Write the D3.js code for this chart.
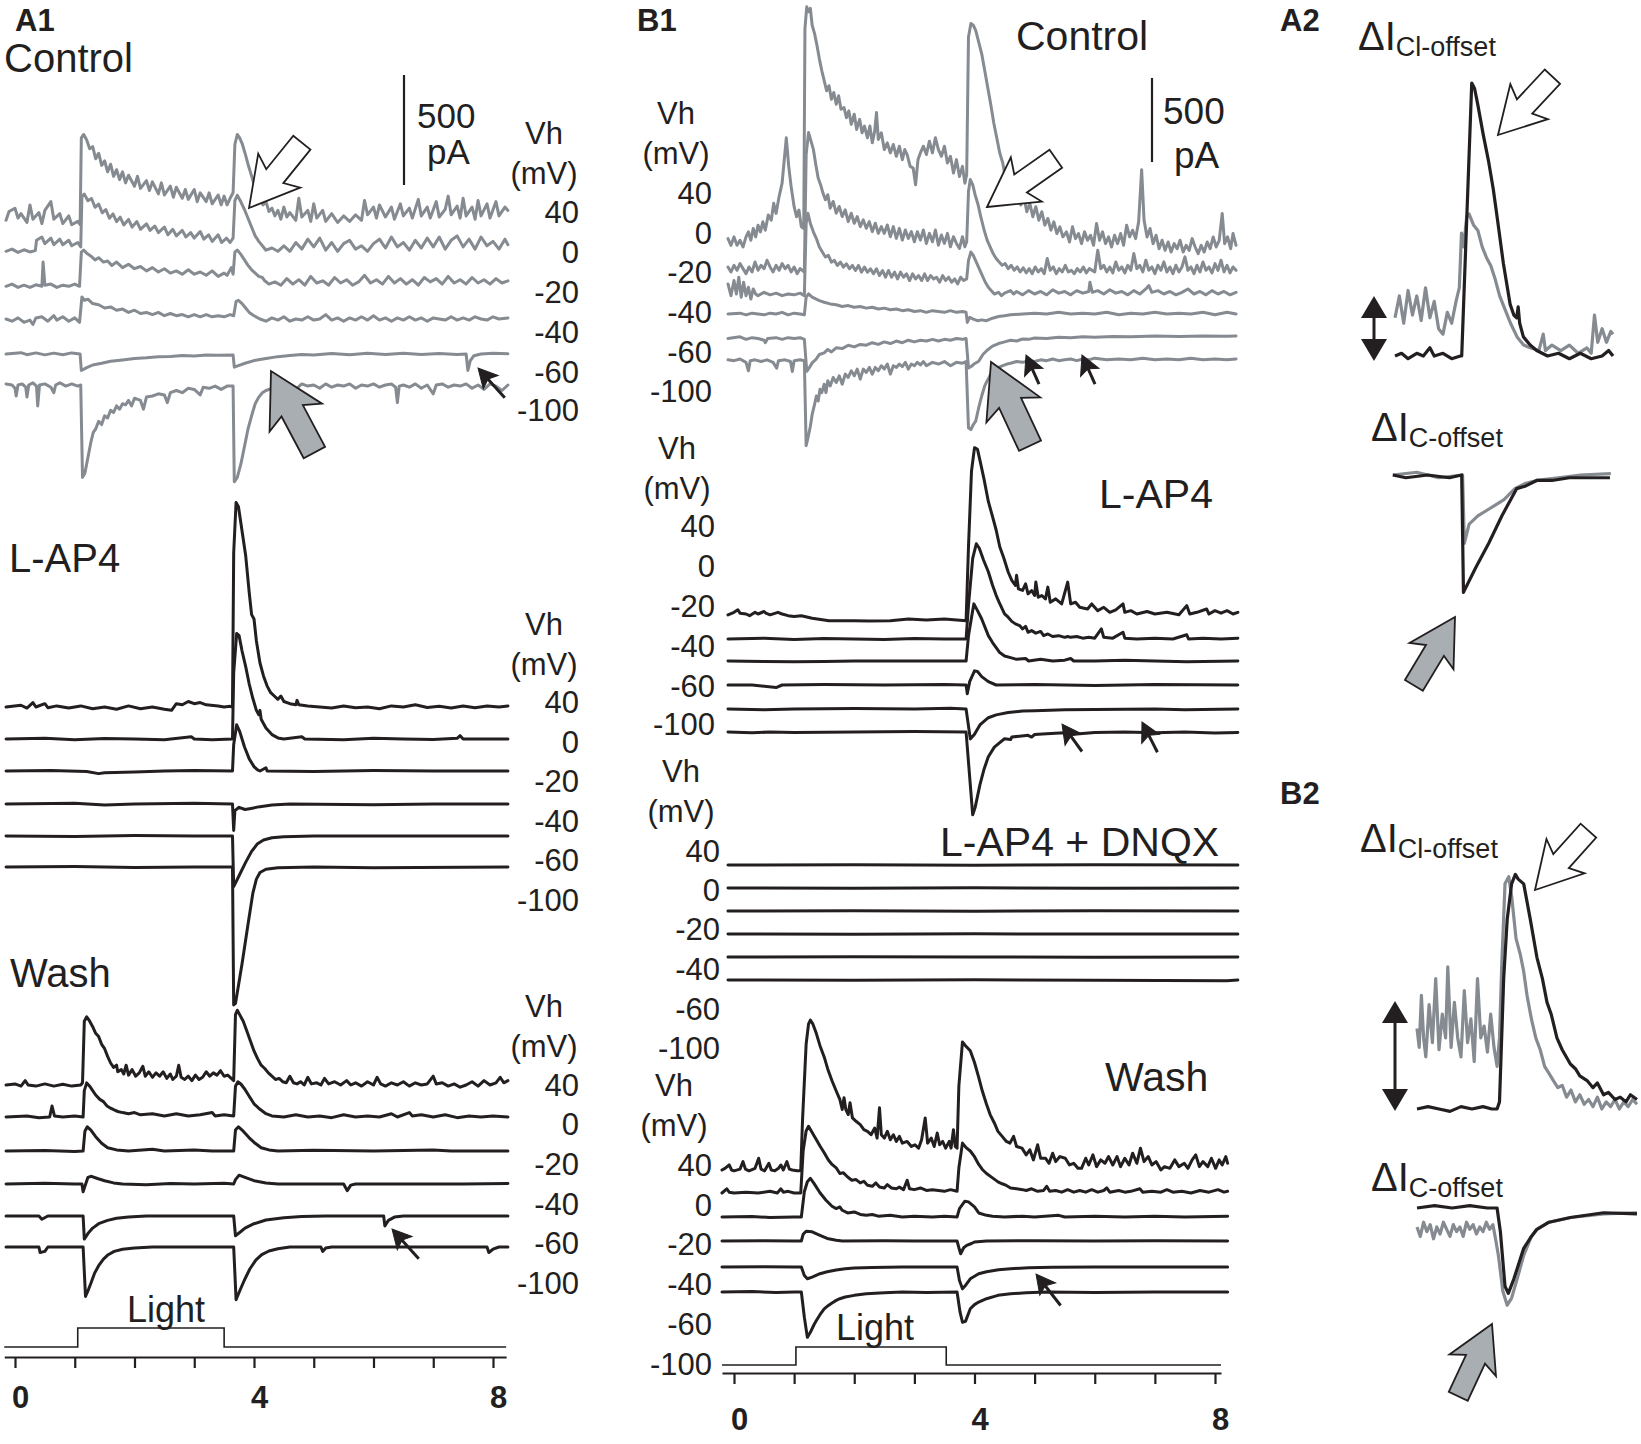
<!DOCTYPE html>
<html><head><meta charset="utf-8">
<script src="https://cdn.jsdelivr.net/npm/d3@7"></script>
<style>
html,body{margin:0;padding:0;background:#fff;}
svg{display:block;}
</style></head><body>
<svg id="fig" width="1641" height="1444"></svg>
<script>
// ================= DATA =================
const timeTicks = [0,1,2,3,4,5,6,7,8];
const tickLabelSet = ["0","4","8"];
const vhLevels = ["40","0","-20","-40","-60","-100"];
const panelLabels = ["A1","B1","A2","B2"];
const conditionsA1 = ["Control","L-AP4","Wash"];
const conditionsB1 = ["Control","L-AP4","L-AP4 + DNQX","Wash"];
const scaleBarPA = 500;
// light stimulus (time s, on/off)
const lightA1 = [-0.18,0, 1.05,0, 1.05,1, 3.5,1, 3.5,0, 8.22,0];
const lightB1 = [-0.2,0, 1.03,0, 1.03,1, 3.53,1, 3.53,0, 8.1,0];

// ---- A1 Control (pA, time s) ----
const a1Ctrl40 = [-0.15,-15,-0.1,25,0,40,0.05,-5,0.1,15,0.2,-25,0.25,55,0.3,-10,0.4,20,0.45,-30,0.5,30,0.6,70,0.65,-10,0.75,15,0.8,-30,0.9,5,0.95,-35,1.05,-20,1.09,-35,1.11,360,1.15,375,1.2,350,1.25,310,1.3,320,1.35,265,1.4,290,1.45,235,1.5,255,1.55,205,1.6,240,1.65,185,1.7,215,1.75,170,1.8,205,1.85,155,1.9,190,2.0,140,2.05,185,2.1,130,2.2,165,2.25,120,2.3,160,2.4,105,2.45,155,2.5,100,2.6,140,2.65,90,2.7,135,2.8,85,2.85,125,2.9,80,3.0,125,3.05,70,3.1,110,3.2,70,3.25,110,3.3,60,3.4,100,3.45,55,3.5,95,3.55,55,3.6,85,3.65,110,3.68,330,3.72,375,3.76,360,3.8,335,3.85,290,3.9,240,3.95,195,4.0,150,4.05,115,4.1,85,4.15,55,4.2,70,4.25,25,4.3,40,4.35,5,4.4,30,4.45,-10,4.5,45,4.55,0,4.6,20,4.7,-15,4.75,85,4.8,0,4.9,30,4.95,-20,5.0,60,5.05,-5,5.15,30,5.2,-20,5.3,15,5.4,-25,5.5,5,5.6,-20,5.7,10,5.8,-15,5.85,75,5.9,10,6.0,45,6.05,-5,6.1,55,6.2,0,6.3,45,6.35,-10,6.45,60,6.5,5,6.6,40,6.65,-5,6.75,80,6.8,5,6.9,45,6.95,-5,7.05,70,7.1,0,7.2,35,7.25,95,7.3,10,7.4,50,7.45,-5,7.5,85,7.55,5,7.65,45,7.7,-10,7.75,75,7.8,5,7.9,60,7.95,-5,8.05,70,8.1,5,8.2,45,8.25,30];
const a1Ctrl0 = [-0.15,-15,-0.05,-5,0.05,-20,0.15,-8,0.25,-18,0.34,-12,0.36,35,0.45,50,0.5,20,0.6,45,0.65,15,0.75,40,0.8,15,0.9,35,0.95,10,1.05,25,1.1,5,1.12,235,1.16,245,1.22,215,1.28,225,1.34,185,1.4,200,1.46,160,1.52,175,1.58,135,1.64,155,1.7,120,1.76,140,1.82,105,1.9,130,1.96,95,2.04,120,2.1,85,2.2,110,2.26,80,2.34,100,2.4,70,2.5,95,2.56,60,2.64,85,2.7,55,2.8,80,2.86,50,2.94,70,3.0,45,3.1,75,3.16,40,3.24,60,3.3,30,3.4,60,3.46,25,3.54,45,3.6,25,3.65,45,3.68,215,3.72,240,3.78,210,3.84,175,3.9,135,3.96,95,4.02,55,4.08,30,4.14,10,4.2,-10,4.3,0,4.4,-15,4.5,10,4.6,-15,4.7,25,4.8,-5,4.9,40,5.0,5,5.1,45,5.2,-10,5.3,25,5.4,-15,5.5,20,5.6,35,5.7,-5,5.8,10,5.9,-15,6.0,20,6.1,40,6.2,0,6.3,50,6.4,5,6.5,25,6.6,-10,6.7,35,6.8,0,6.9,45,7.0,5,7.1,50,7.2,-5,7.3,35,7.4,55,7.5,5,7.6,40,7.7,-5,7.8,50,7.9,10,8.0,30,8.1,-5,8.2,40,8.25,15];
const a1CtrlM20 = [-0.15,-15,-0.05,-5,0.05,-20,0.15,-10,0.25,-20,0.35,-8,0.45,-15,0.47,95,0.5,-10,0.6,-5,0.7,-20,0.8,-10,0.9,-15,1.0,-5,1.08,-15,1.11,140,1.15,150,1.2,135,1.28,120,1.34,105,1.4,115,1.48,95,1.55,100,1.62,80,1.7,95,1.8,70,1.9,85,2.0,65,2.1,75,2.2,55,2.3,70,2.4,50,2.5,65,2.6,45,2.7,55,2.8,40,2.9,60,3.0,40,3.1,50,3.2,35,3.3,55,3.4,30,3.5,45,3.55,35,3.62,70,3.65,40,3.68,140,3.72,150,3.78,130,3.84,105,3.9,80,3.96,60,4.02,45,4.08,30,4.14,25,4.18,10,4.25,-5,4.35,5,4.45,-10,4.55,20,4.65,-5,4.75,15,4.85,-10,4.95,30,5.05,0,5.15,10,5.25,-10,5.35,25,5.45,0,5.55,15,5.65,-10,5.75,5,5.85,35,5.95,0,6.05,15,6.15,-5,6.25,30,6.35,0,6.45,20,6.55,-5,6.65,15,6.75,-10,6.85,25,6.95,5,7.05,20,7.15,-5,7.25,30,7.35,0,7.45,15,7.55,-5,7.65,25,7.75,0,7.85,15,7.95,-5,8.05,20,8.15,0,8.25,10];
const a1CtrlM40 = [-0.15,0,-0.05,-10,0.05,5,0.15,-15,0.25,-5,0.3,-25,0.35,5,0.45,10,0.55,-10,0.65,15,0.7,-5,0.8,10,0.9,-10,1.0,5,1.08,-15,1.12,100,1.16,85,1.22,90,1.3,70,1.4,65,1.5,50,1.6,55,1.7,40,1.8,45,1.9,30,2.0,40,2.1,25,2.2,30,2.3,20,2.4,30,2.5,15,2.6,25,2.7,15,2.8,20,2.9,10,3.0,20,3.1,10,3.2,20,3.3,10,3.4,15,3.5,10,3.6,20,3.66,15,3.7,80,3.74,85,3.8,70,3.86,50,3.92,30,4.0,15,4.1,0,4.2,-10,4.3,5,4.4,-5,4.5,10,4.6,-10,4.7,0,4.8,-5,4.9,10,5.0,-5,5.1,0,5.2,20,5.3,-5,5.4,5,5.5,-10,5.6,5,5.7,-5,5.8,10,5.9,-5,6.0,15,6.1,-5,6.2,5,6.3,-10,6.4,5,6.5,-5,6.6,10,6.7,-5,6.8,5,6.9,-10,7.0,5,7.1,0,7.2,-5,7.3,10,7.4,-5,7.5,5,7.6,-5,7.7,10,7.8,0,7.9,-5,8.0,10,8.1,0,8.25,5];
const a1CtrlM60 = [-0.15,0,0.1,6,0.2,-3,0.35,5,0.5,-4,0.65,4,0.8,-3,0.95,5,1.09,0,1.11,-75,1.2,-62,1.3,-50,1.45,-42,1.6,-33,1.8,-27,2.0,-20,2.2,-17,2.4,-12,2.6,-11,2.8,-7,3.0,-9,3.2,-5,3.4,-6,3.65,-4,3.67,-60,3.75,-52,3.85,-42,4.0,-30,4.2,-20,4.4,-12,4.6,-7,4.8,-2,5.0,-5,5.3,2,5.6,-3,5.9,3,6.2,-2,6.5,3,6.8,-2,7.1,2,7.4,-2,7.55,0,7.58,-75,7.62,-30,7.68,-8,7.8,0,8.0,3,8.25,1];
const a1CtrlM100 = [-0.15,5,-0.05,0,0.0,-15,0.02,-50,0.05,0,0.12,5,0.18,-10,0.2,-55,0.23,0,0.3,10,0.36,-5,0.38,-95,0.41,0,0.5,5,0.6,-10,0.65,-35,0.68,0,0.75,10,0.85,-5,0.95,5,1.05,-5,1.1,0,1.13,-420,1.17,-400,1.22,-330,1.27,-260,1.31,-215,1.35,-200,1.4,-165,1.45,-180,1.5,-140,1.55,-150,1.6,-115,1.65,-125,1.7,-95,1.75,-110,1.8,-85,1.85,-90,1.9,-70,1.95,-95,2.0,-60,2.1,-70,2.15,-110,2.2,-55,2.3,-50,2.4,-40,2.5,-45,2.55,-80,2.6,-35,2.7,-25,2.8,-35,2.9,-15,3.0,-20,3.1,-45,3.15,-10,3.25,-15,3.35,-5,3.45,-20,3.55,-5,3.65,-5,3.67,-440,3.72,-420,3.78,-360,3.84,-280,3.9,-200,3.96,-140,4.02,-85,4.08,-55,4.14,-35,4.2,-25,4.3,-15,4.35,-45,4.4,-5,4.5,-10,4.6,0,4.7,-20,4.8,5,4.9,-5,5.0,0,5.1,-15,5.2,5,5.3,-10,5.4,0,5.5,-5,5.6,5,5.7,-15,5.8,0,5.9,-5,6.0,5,6.1,-10,6.2,0,6.3,5,6.37,-10,6.4,-80,6.43,-5,6.5,0,6.6,-10,6.7,5,6.8,-15,6.9,0,7.0,-40,7.05,0,7.15,5,7.25,-10,7.35,0,7.45,-5,7.55,5,7.65,-15,7.75,0,7.85,-20,7.95,5,8.05,-5,8.15,-25,8.25,0];

// ---- A1 L-AP4 ----
const a1Lap40 = [-0.15,0,0.1,8,0.2,-5,0.3,20,0.35,0,0.5,15,0.55,-3,0.7,5,0.9,-5,1.1,5,1.3,-8,1.5,0,1.7,-10,1.9,5,2.1,-8,2.3,0,2.5,-10,2.62,-15,2.7,15,2.8,10,2.9,25,3.0,15,3.1,20,3.2,10,3.4,5,3.5,0,3.6,3,3.64,0,3.66,700,3.7,930,3.74,910,3.8,800,3.86,690,3.92,520,3.96,420,4.0,400,4.04,300,4.1,200,4.16,140,4.22,95,4.28,65,4.34,50,4.4,35,4.45,50,4.5,25,4.6,15,4.7,10,4.72,30,4.75,10,4.9,5,5.1,0,5.3,-5,5.5,5,5.7,-3,5.9,0,6.1,-8,6.3,5,6.5,0,6.7,10,6.9,-2,7.1,3,7.3,-5,7.5,5,7.7,-3,7.9,5,8.1,0,8.25,5];
const a1Lap0 = [-0.15,0,0.5,3,1.0,-3,1.5,2,2.0,0,2.5,-3,2.95,10,3.0,0,3.3,-3,3.64,0,3.66,300,3.71,480,3.75,470,3.8,400,3.86,330,3.92,250,3.98,185,4.04,130,4.08,110,4.1,130,4.12,90,4.2,50,4.3,20,4.4,5,4.5,0,4.8,10,4.85,0,5.5,-3,6.0,3,6.5,0,7.0,-2,7.4,3,7.45,15,7.5,0,8.25,0];
const a1LapM20 = [-0.15,0,0.6,2,1.2,-2,1.4,-12,1.5,-8,2.0,-5,2.5,0,3.0,2,3.64,0,3.66,120,3.71,210,3.76,180,3.84,110,3.92,55,4.0,20,4.06,5,4.1,0,4.2,15,4.22,0,5.0,-2,6.0,2,7.0,0,8.25,0];
const a1LapM40 = [-0.15,0,1.0,3,1.5,-5,2.0,0,3.0,3,3.64,0,3.66,-120,3.68,-30,3.75,-15,3.85,-25,3.95,-20,4.1,-12,4.3,-5,4.6,0,6.0,-3,7.0,0,8.25,0];
const a1LapM60 = [-0.15,0,1.0,-2,2.0,2,3.0,0,3.64,0,3.66,-230,3.76,-175,3.86,-120,3.96,-70,4.06,-35,4.16,-18,4.3,-8,4.5,-3,5.0,0,8.25,0];
const a1LapM100 = [-0.15,0,1.0,2,2.0,-2,3.0,0,3.64,0,3.66,-627,3.69,-620,3.8,-440,3.9,-260,3.98,-120,4.04,-55,4.1,-25,4.2,-10,4.4,-3,5.0,0,6.0,-3,8.25,0];

// ---- A1 Wash ----
const a1Wash40 = [-0.15,0,0.0,5,0.1,-5,0.17,20,0.22,0,0.35,-5,0.5,5,0.65,-5,0.8,3,0.95,-5,1.1,0,1.13,10,1.16,290,1.2,310,1.25,290,1.3,265,1.35,235,1.4,220,1.45,185,1.5,165,1.55,130,1.6,100,1.65,80,1.7,90,1.72,60,1.78,70,1.82,50,1.86,90,1.9,45,1.96,70,2.02,40,2.08,55,2.14,85,2.18,40,2.24,60,2.3,35,2.36,55,2.42,40,2.48,60,2.54,30,2.6,50,2.64,25,2.7,40,2.74,90,2.78,35,2.84,25,2.9,40,2.96,20,3.02,45,3.08,25,3.14,35,3.2,60,3.26,40,3.32,55,3.38,45,3.44,65,3.5,40,3.56,45,3.62,30,3.66,20,3.69,320,3.72,340,3.76,320,3.82,290,3.88,245,3.94,200,4.0,155,4.06,120,4.12,90,4.18,75,4.24,55,4.3,40,4.36,25,4.42,30,4.48,15,4.54,10,4.6,40,4.66,10,4.72,5,4.78,15,4.84,0,4.9,35,4.96,5,5.05,10,5.12,0,5.18,30,5.25,5,5.35,15,5.45,0,5.55,20,5.62,0,5.7,10,5.8,-5,5.9,15,6.0,0,6.06,35,6.12,5,6.2,-5,6.3,10,6.4,0,6.5,15,6.6,-5,6.7,10,6.8,0,6.9,5,7.0,40,7.05,5,7.15,10,7.25,-5,7.35,5,7.45,-10,7.55,0,7.65,15,7.75,-5,7.85,20,7.95,0,8.05,10,8.12,35,8.18,10,8.25,20];
const a1Wash0 = [-0.15,0,0.2,5,0.4,-3,0.58,0,0.62,50,0.66,5,0.8,0,1.0,5,1.14,0,1.16,120,1.2,155,1.25,140,1.3,120,1.35,100,1.42,80,1.48,70,1.54,50,1.6,40,1.66,32,1.72,25,1.8,20,1.9,15,2.0,20,2.1,10,2.3,15,2.5,5,2.7,15,2.9,5,3.1,10,3.3,20,3.35,5,3.5,10,3.66,5,3.69,140,3.73,160,3.78,150,3.85,125,3.93,90,4.0,60,4.1,35,4.2,15,4.3,5,4.5,0,4.7,10,4.9,0,5.1,5,5.3,-3,5.5,10,5.7,0,5.9,5,6.1,0,6.3,15,6.4,0,6.6,20,6.65,5,6.8,10,7.0,0,7.2,10,7.4,-3,7.6,5,7.8,0,8.0,5,8.25,0];
const a1WashM20 = [-0.15,0,0.5,2,1.0,-2,1.14,0,1.17,90,1.21,110,1.27,95,1.35,65,1.45,35,1.55,15,1.7,5,1.9,0,2.3,8,2.5,0,3.0,5,3.3,0,3.66,0,3.69,95,3.74,110,3.82,90,3.92,60,4.02,35,4.12,15,4.25,5,4.4,0,5.0,3,6.0,0,7.0,5,7.3,0,8.25,0];
const a1WashM40 = [-0.15,0,0.5,3,1.0,0,1.12,0,1.14,-35,1.17,-10,1.22,30,1.28,35,1.38,25,1.5,15,1.65,5,1.8,0,2.2,-3,2.6,2,3.0,0,3.5,3,3.66,0,3.69,20,3.75,40,3.85,30,4.0,15,4.2,5,4.4,0,5.5,0,5.56,-30,5.62,-5,5.7,0,7.5,0,8.25,2];
const a1WashM60 = [-0.15,0,0.4,0,0.45,-15,0.55,0,1.14,0,1.16,-105,1.22,-80,1.3,-55,1.4,-35,1.55,-20,1.7,-10,1.9,-5,2.2,0,3.66,0,3.69,-90,3.76,-75,3.85,-55,4.0,-35,4.2,-18,4.5,-8,4.8,-2,5.2,0,6.17,0,6.19,-45,6.25,-20,6.35,-5,6.5,0,8.25,0];
const a1WashM100 = [-0.15,0,0.4,0,0.42,-25,0.5,-20,0.55,0,1.14,0,1.18,-225,1.22,-200,1.27,-165,1.33,-120,1.4,-85,1.48,-55,1.56,-35,1.66,-20,1.8,-10,2.0,-5,2.3,0,3.66,0,3.7,-240,3.76,-200,3.84,-150,3.93,-100,4.03,-60,4.13,-35,4.25,-18,4.4,-8,4.6,0,5.12,0,5.15,-20,5.2,-5,5.3,0,7.9,0,7.93,-25,8.0,-10,8.1,0,8.25,0];

// ---- B1 Control ----
const b1Ctrl40 = [-0.1,50,-0.05,10,0.0,60,0.05,10,0.1,40,0.15,0,0.2,60,0.24,90,0.28,40,0.32,110,0.36,60,0.4,130,0.44,90,0.48,150,0.52,100,0.57,190,0.62,160,0.66,260,0.7,200,0.75,300,0.8,380,0.87,650,0.91,480,0.95,360,1.0,240,1.04,180,1.08,220,1.12,120,1.16,110,1.18,1300,1.21,1430,1.24,1400,1.27,1420,1.3,1320,1.34,1270,1.38,1200,1.42,1120,1.46,1050,1.5,990,1.54,930,1.58,960,1.62,880,1.66,920,1.7,850,1.74,900,1.78,820,1.83,830,1.87,770,1.91,810,1.95,730,2.0,790,2.04,700,2.09,760,2.13,680,2.17,720,2.22,650,2.26,720,2.3,620,2.34,690,2.37,800,2.4,640,2.45,680,2.5,580,2.55,620,2.6,560,2.65,610,2.7,540,2.75,600,2.8,520,2.84,580,2.88,550,2.93,480,2.98,470,3.02,370,3.06,520,3.1,560,3.15,600,3.2,550,3.25,630,3.3,560,3.35,650,3.4,580,3.45,540,3.5,600,3.55,500,3.6,540,3.65,440,3.7,520,3.75,420,3.8,480,3.84,380,3.87,430,3.9,1250,3.94,1330,3.98,1320,4.02,1290,4.07,1220,4.12,1150,4.17,1050,4.22,950,4.27,850,4.32,740,4.37,650,4.42,560,4.47,500,4.52,400,4.57,360,4.62,420,4.67,300,4.72,330,4.77,250,4.82,300,4.87,210,4.92,260,4.97,180,5.02,240,5.07,160,5.12,210,5.17,130,5.22,170,5.27,100,5.32,150,5.37,80,5.42,120,5.47,60,5.53,90,5.58,30,5.63,120,5.68,50,5.73,80,5.78,20,5.83,90,5.88,40,5.93,70,5.98,10,6.03,140,6.08,40,6.13,90,6.18,20,6.23,60,6.28,0,6.33,70,6.38,20,6.43,80,6.48,10,6.53,130,6.58,60,6.63,100,6.68,50,6.73,150,6.78,460,6.82,160,6.87,60,6.92,110,6.97,20,7.02,70,7.07,-10,7.12,40,7.17,-20,7.22,30,7.27,-30,7.32,20,7.37,-10,7.42,40,7.47,-30,7.52,10,7.57,-20,7.62,50,7.67,0,7.72,-40,7.77,10,7.82,-30,7.87,30,7.92,-10,7.97,60,8.02,0,8.07,40,8.12,200,8.16,20,8.21,60,8.26,-10,8.3,80,8.35,10];
const b1Ctrl0 = [-0.1,30,-0.05,0,0.0,40,0.05,10,0.1,50,0.15,20,0.2,-10,0.25,30,0.3,0,0.35,60,0.4,10,0.45,40,0.5,20,0.55,70,0.6,30,0.65,0,0.7,40,0.75,10,0.8,50,0.85,20,0.9,40,0.95,0,1.0,30,1.05,-10,1.1,20,1.17,0,1.2,700,1.24,830,1.28,780,1.32,730,1.36,640,1.4,560,1.44,520,1.48,470,1.52,430,1.56,460,1.6,380,1.65,420,1.7,350,1.75,390,1.8,330,1.85,370,1.9,300,1.95,350,2.0,290,2.05,330,2.1,270,2.15,310,2.2,260,2.25,300,2.3,240,2.35,290,2.4,230,2.45,270,2.5,230,2.55,280,2.6,210,2.65,270,2.7,200,2.75,260,2.8,190,2.85,250,2.9,200,2.95,240,3.0,180,3.05,240,3.1,190,3.15,250,3.2,170,3.25,230,3.3,180,3.35,250,3.4,160,3.45,220,3.5,170,3.55,230,3.6,150,3.65,210,3.7,170,3.75,140,3.8,210,3.84,150,3.87,180,3.9,480,3.93,550,3.97,520,4.01,460,4.06,400,4.11,320,4.16,250,4.21,190,4.26,150,4.31,110,4.36,80,4.41,60,4.46,40,4.51,50,4.56,20,4.61,40,4.66,10,4.71,30,4.76,0,4.81,25,4.86,-5,4.91,20,4.96,-10,5.01,30,5.06,0,5.11,20,5.16,-10,5.21,80,5.26,10,5.31,30,5.36,-10,5.41,20,5.46,0,5.51,40,5.56,0,5.61,10,5.66,-10,5.71,20,5.76,0,5.81,30,5.86,-5,5.91,20,6.0,0,6.05,130,6.1,20,6.15,40,6.2,0,6.25,30,6.3,-5,6.35,60,6.4,10,6.45,30,6.5,-5,6.55,40,6.6,10,6.65,110,6.7,20,6.75,40,6.8,0,6.85,70,6.9,10,6.95,30,7.0,-10,7.05,40,7.1,10,7.15,60,7.2,0,7.25,30,7.3,-10,7.35,40,7.4,0,7.45,30,7.5,90,7.55,10,7.6,30,7.65,-10,7.7,40,7.75,0,7.8,60,7.85,10,7.9,30,7.95,-5,8.0,50,8.05,10,8.1,70,8.15,0,8.2,40,8.25,-5,8.3,30,8.35,10];
const b1CtrlM20 = [-0.1,60,-0.05,-10,0.0,80,0.04,0,0.08,100,0.12,-20,0.16,70,0.2,-10,0.24,40,0.28,-30,0.32,30,0.36,0,0.4,-10,0.5,10,0.6,-5,0.7,5,0.8,-10,0.9,0,1.0,-5,1.1,5,1.17,-10,1.2,420,1.23,480,1.27,420,1.32,370,1.37,330,1.42,280,1.47,250,1.52,220,1.57,230,1.62,190,1.67,200,1.72,170,1.77,190,1.82,160,1.87,180,1.92,150,1.97,170,2.02,140,2.07,170,2.12,130,2.17,160,2.22,130,2.27,150,2.32,120,2.37,150,2.42,110,2.47,140,2.52,100,2.57,140,2.62,100,2.67,130,2.72,90,2.77,130,2.82,100,2.87,120,2.92,80,2.97,120,3.02,90,3.07,110,3.12,80,3.17,120,3.22,80,3.27,110,3.32,90,3.37,100,3.42,70,3.47,110,3.52,80,3.57,100,3.62,70,3.67,90,3.72,60,3.77,100,3.82,80,3.87,90,3.9,200,3.94,250,3.98,230,4.03,190,4.08,150,4.13,110,4.18,70,4.23,40,4.28,20,4.33,0,4.4,10,4.45,-10,4.5,5,4.6,20,4.65,0,4.7,15,4.8,-5,4.9,20,5.0,0,5.1,15,5.2,-5,5.3,25,5.4,5,5.5,15,5.6,-5,5.7,20,5.8,5,5.9,15,5.92,70,5.96,10,6.05,20,6.15,0,6.25,25,6.35,5,6.45,15,6.55,-5,6.65,20,6.75,0,6.85,30,6.9,50,6.95,10,7.05,20,7.15,0,7.25,15,7.35,-5,7.45,10,7.55,30,7.65,0,7.75,15,7.85,-5,7.95,20,8.05,0,8.15,15,8.25,-5,8.35,10];
const b1CtrlM40 = [-0.1,0,0.1,5,0.2,-5,0.3,5,0.4,0,0.5,-5,0.6,5,0.7,0,0.8,10,0.9,-5,1.0,5,1.1,0,1.17,-5,1.2,100,1.24,120,1.3,100,1.36,90,1.42,80,1.5,70,1.6,60,1.7,55,1.8,45,1.9,50,2.0,40,2.1,45,2.2,35,2.3,40,2.4,30,2.5,35,2.6,25,2.7,30,2.8,20,2.9,25,3.0,15,3.1,20,3.2,10,3.3,20,3.4,15,3.5,10,3.6,20,3.7,10,3.8,15,3.86,10,3.88,-50,3.92,-20,3.98,-30,4.05,-40,4.12,-35,4.2,-40,4.3,-25,4.4,-15,4.5,-10,4.6,-5,4.8,0,5.0,5,5.2,0,5.4,10,5.6,0,5.8,5,6.0,0,6.2,10,6.4,-5,6.6,5,6.8,0,7.0,10,7.2,0,7.4,5,7.6,0,7.8,10,8.0,-5,8.2,10,8.35,0];
const b1CtrlM60 = [-0.1,-15,0.1,-5,0.2,-20,0.3,-10,0.4,-15,0.5,-25,0.52,-40,0.56,-15,0.7,-10,0.8,-20,0.9,-10,1.0,-15,1.1,-10,1.17,-20,1.21,-210,1.25,-190,1.3,-160,1.36,-140,1.42,-110,1.5,-100,1.56,-80,1.62,-95,1.7,-70,1.8,-75,1.9,-55,2.0,-65,2.1,-50,2.2,-55,2.3,-40,2.4,-50,2.5,-35,2.6,-45,2.7,-30,2.8,-40,2.9,-25,3.0,-35,3.1,-25,3.2,-30,3.3,-20,3.4,-30,3.5,-20,3.6,-25,3.7,-15,3.8,-20,3.86,-15,3.9,-190,3.95,-180,4.0,-165,4.07,-150,4.14,-110,4.21,-85,4.3,-60,4.4,-45,4.5,-35,4.6,-25,4.7,-30,4.8,-18,4.9,-20,5.0,-12,5.2,-15,5.4,-8,5.6,-10,5.8,-5,6.0,-8,6.3,-3,6.6,-5,7.0,0,7.4,-3,7.8,0,8.2,-2,8.35,0];
const b1CtrlM100 = [-0.1,-5,0.0,-10,0.1,0,0.2,-20,0.24,-70,0.27,-10,0.35,-5,0.45,-15,0.55,-5,0.65,-20,0.71,-55,0.74,-10,0.85,-5,0.94,-15,0.97,-75,1.0,-10,1.1,-5,1.17,-10,1.2,-516,1.23,-470,1.27,-400,1.3,-330,1.34,-270,1.37,-220,1.4,-250,1.43,-180,1.46,-200,1.5,-150,1.53,-200,1.56,-130,1.6,-160,1.65,-110,1.7,-140,1.75,-100,1.8,-150,1.85,-90,1.9,-110,1.95,-70,2.0,-100,2.05,-60,2.1,-120,2.15,-60,2.2,-80,2.25,-50,2.3,-90,2.35,-50,2.4,-70,2.45,-40,2.5,-60,2.55,-30,2.6,-90,2.65,-40,2.7,-50,2.75,-30,2.8,-45,2.85,-20,2.9,-60,2.95,-30,3.0,-40,3.05,-20,3.1,-35,3.15,-15,3.2,-40,3.3,-20,3.4,-30,3.5,-15,3.6,-40,3.7,-20,3.8,-25,3.86,-15,3.9,-410,3.94,-420,3.98,-390,4.02,-370,4.07,-290,4.12,-220,4.17,-160,4.21,-130,4.27,-90,4.34,-70,4.4,-50,4.47,-40,4.54,-30,4.6,-25,4.7,-15,4.8,-20,4.9,-10,5.0,-15,5.1,-5,5.2,-10,5.3,0,5.4,-10,5.5,-5,5.6,0,5.7,-10,5.8,0,5.9,-5,6.0,5,6.2,-5,6.4,0,6.6,-5,6.8,5,7.0,-5,7.2,0,7.4,-5,7.6,5,7.8,-5,8.0,0,8.2,-5,8.35,0];

// ---- B1 L-AP4 ----
const b1Lap40 = [-0.1,-5,0.0,10,0.065,25,0.1,5,0.2,0,0.26,-10,0.35,10,0.4,0,0.5,15,0.53,5,0.6,-5,0.73,10,0.8,0,0.9,-10,1.0,-15,1.12,-10,1.3,-25,1.58,-40,2.0,-40,2.24,-42,2.6,-40,2.9,-30,3.2,-35,3.5,-30,3.86,-40,3.9,400,3.95,850,4.0,990,4.05,980,4.1,900,4.16,800,4.23,670,4.3,580,4.36,500,4.42,400,4.49,330,4.56,250,4.62,200,4.68,170,4.7,230,4.73,150,4.8,140,4.85,180,4.89,120,4.95,140,5.0,110,5.02,190,5.06,100,5.12,110,5.18,90,5.22,160,5.26,70,5.35,90,5.45,60,5.55,190,5.6,60,5.68,70,5.75,40,5.88,30,5.95,60,6.05,20,6.15,40,6.25,10,6.35,25,6.47,60,6.5,10,6.6,20,6.7,0,6.87,15,7.0,0,7.2,10,7.4,-5,7.53,50,7.58,0,7.7,10,7.86,30,7.9,0,8.0,20,8.1,5,8.2,20,8.3,0,8.38,10];
const b1Lap0 = [-0.1,0,0.5,5,1.0,-3,1.5,3,2.0,0,2.5,-3,3.0,3,3.5,0,3.86,0,3.9,200,3.97,480,4.03,567,4.08,540,4.15,470,4.23,400,4.3,320,4.36,260,4.42,210,4.5,150,4.56,130,4.62,105,4.68,90,4.75,80,4.8,60,4.85,75,4.89,40,4.95,50,5.02,35,5.1,45,5.15,20,5.22,30,5.3,15,5.4,20,5.5,10,5.55,15,5.6,10,5.7,15,5.8,5,5.9,10,6.0,5,6.11,60,6.15,10,6.3,5,6.47,40,6.5,5,6.7,0,7.0,5,7.3,0,7.53,25,7.56,0,7.8,5,8.1,0,8.38,5];
const b1LapM20 = [-0.1,0,0.5,-3,1.0,-5,1.5,-3,2.0,0,3.0,0,3.86,0,3.9,150,3.97,300,3.99,340,4.05,300,4.12,250,4.23,151,4.3,110,4.36,80,4.42,50,4.5,30,4.6,20,4.7,10,4.85,15,4.9,0,5.1,10,5.3,0,5.5,5,5.6,15,5.65,0,6.0,0,6.5,5,7.0,0,7.53,-5,8.38,0];
const b1LapM40 = [-0.1,0,0.3,0,0.7,-15,0.8,0,1.5,3,2.5,0,3.5,3,3.86,0,3.88,-52,3.92,20,4.0,84,4.05,80,4.12,50,4.23,20,4.36,0,5.0,3,6.0,-3,7.0,3,8.38,0];
const b1LapM60 = [-0.1,0,0.5,-5,1.0,0,2.0,3,3.0,0,3.6,5,3.86,0,3.93,-178,4.0,-150,4.09,-95,4.23,-52,4.36,-35,4.56,-21,4.8,-12,5.0,-10,5.5,-5,6.0,-3,7.0,0,7.5,-5,8.38,0];
const b1LapM100 = [-0.1,0,0.3,-5,0.6,0,1.0,-3,2.0,0,3.0,3,3.86,0,3.97,-493,4.01,-450,4.09,-315,4.16,-220,4.23,-147,4.33,-90,4.42,-63,4.5,-40,4.6,-45,4.62,-30,4.75,-25,4.89,-20,4.95,-30,5.0,-15,5.2,-10,5.5,-5,5.7,-12,6.0,-3,6.5,0,7.0,-5,7.5,0,8.0,-6,8.38,-3];

// ---- B1 L-AP4 + DNQX ----
const b1Dnqx40 = [-0.1,0,2.0,2,4.0,-2,6.0,2,8.38,0];
const b1Dnqx0 = [-0.1,0,2.0,-1,4.0,1,6.0,-1,8.38,0];
const b1DnqxM20 = [-0.1,0,2.0,1,4.0,-1,6.0,1,8.38,0];
const b1DnqxM40 = [-0.1,0,2.0,-1,4.0,1,6.0,0,8.38,0];
const b1DnqxM60 = [-0.1,0,2.0,1,4.0,0,6.0,-1,8.38,0];
const b1DnqxM100 = [-0.1,0,2.0,-1,4.0,1,6.0,-1,8.2,-4,8.38,0];

// ---- B1 Wash ----
const b1Wash40 = [-0.2,0,-0.15,10,-0.08,30,-0.04,0,0.0,-5,0.1,5,0.15,50,0.19,5,0.25,-5,0.35,10,0.41,70,0.45,5,0.51,-5,0.58,40,0.62,0,0.68,-5,0.74,10,0.78,30,0.82,0,0.88,50,0.92,5,0.97,0,1.05,-5,1.11,-5,1.14,300,1.2,750,1.24,870,1.27,892,1.31,870,1.37,812,1.43,740,1.5,673,1.56,600,1.63,531,1.7,470,1.76,420,1.8,360,1.83,430,1.86,360,1.9,330,1.93,400,1.97,310,2.03,290,2.1,270,2.16,240,2.22,230,2.28,210,2.34,250,2.38,190,2.42,370,2.45,210,2.5,190,2.55,230,2.6,180,2.65,210,2.7,170,2.75,200,2.8,160,2.88,170,2.95,140,3.01,150,3.07,130,3.12,180,3.18,310,3.22,160,3.28,190,3.33,140,3.38,220,3.42,150,3.47,170,3.52,130,3.58,170,3.61,130,3.65,240,3.68,140,3.71,130,3.74,500,3.8,762,3.85,740,3.93,710,4.0,640,4.07,551,4.13,470,4.2,391,4.26,330,4.33,280,4.39,230,4.46,200,4.53,170,4.59,160,4.65,200,4.7,140,4.79,130,4.86,90,4.92,120,4.98,60,5.05,150,5.1,70,5.18,70,5.24,40,5.3,100,5.35,50,5.42,80,5.51,70,5.58,30,5.65,40,5.72,10,5.78,10,5.85,70,5.9,30,5.97,90,6.03,20,6.1,60,6.17,40,6.23,80,6.3,30,6.37,80,6.43,20,6.5,70,6.57,30,6.63,100,6.7,40,6.76,130,6.82,50,6.89,80,6.95,30,7.02,50,7.1,0,7.16,20,7.25,10,7.33,60,7.4,20,7.49,40,7.55,10,7.62,60,7.68,90,7.74,20,7.8,50,7.88,20,7.94,70,8.01,10,8.07,60,8.12,30,8.18,80,8.21,40];
const b1Wash0 = [-0.2,0,-0.12,25,-0.08,5,0.0,0,0.2,5,0.4,0,0.6,10,0.72,0,0.78,25,0.82,5,0.9,10,1.0,0,1.11,0,1.15,250,1.2,370,1.24,397,1.3,360,1.37,317,1.43,280,1.5,240,1.57,196,1.63,170,1.7,150,1.76,116,1.82,120,1.89,95,1.96,76,2.03,80,2.1,60,2.16,70,2.22,46,2.3,40,2.36,60,2.42,36,2.5,30,2.55,50,2.62,30,2.7,25,2.75,35,2.82,20,2.88,76,2.92,25,3.0,20,3.1,30,3.2,15,3.3,20,3.4,15,3.5,10,3.6,20,3.71,10,3.74,150,3.8,297,3.86,270,3.93,250,4.0,216,4.07,170,4.13,140,4.2,116,4.3,90,4.39,66,4.46,55,4.53,45,4.6,30,4.7,25,4.8,20,4.86,15,4.95,25,5.05,10,5.15,15,5.2,40,5.25,10,5.35,15,5.45,5,5.55,20,5.65,5,5.75,15,5.85,5,5.95,20,6.05,5,6.15,15,6.2,30,6.25,5,6.4,15,6.5,5,6.6,10,6.75,25,6.8,5,6.95,10,7.1,5,7.2,20,7.3,5,7.45,10,7.6,0,7.75,15,7.9,5,8.05,20,8.15,5,8.21,10];
const b1WashM20 = [-0.2,0,0.3,3,0.6,-3,1.0,0,1.12,0,1.17,150,1.22,210,1.27,230,1.33,200,1.43,144,1.53,100,1.63,64,1.7,50,1.76,60,1.8,40,1.89,24,2.0,30,2.1,15,2.2,10,2.3,15,2.4,5,2.6,10,2.8,0,3.0,5,3.3,0,3.5,5,3.71,0,3.75,50,3.84,94,3.9,90,4.0,60,4.07,24,4.2,10,4.3,5,4.5,0,4.8,5,5.0,0,5.4,10,5.5,0,6.0,5,6.5,0,7.0,5,7.5,0,8.21,5];
const b1WashM40 = [-0.2,0,0.5,2,1.0,0,1.12,0,1.15,40,1.2,58,1.3,55,1.43,34,1.55,15,1.7,5,1.8,0,2.5,2,3.0,0,3.71,0,3.74,-40,3.77,-76,3.82,-40,3.87,-26,3.95,-15,4.0,-6,4.2,0,5.0,2,6.0,0,7.0,2,8.21,0];
const b1WashM60 = [-0.2,0,0.5,2,1.0,0,1.12,0,1.17,-50,1.22,-70,1.3,-60,1.43,-40,1.55,-28,1.7,-18,1.85,-10,2.0,-6,2.3,-3,2.8,0,3.71,0,3.75,-80,3.8,-130,3.85,-110,3.93,-70,4.07,-40,4.2,-28,4.4,-16,4.6,-10,4.9,-5,5.3,-2,6.0,0,8.21,0];
const b1WashM100 = [-0.2,0,0.3,3,0.7,-3,1.0,0,1.12,0,1.17,-150,1.22,-270,1.27,-240,1.33,-195,1.37,-170,1.43,-135,1.5,-100,1.57,-80,1.63,-65,1.7,-50,1.76,-40,1.85,-30,2.0,-20,2.2,-10,2.5,-5,2.8,0,3.2,-3,3.71,0,3.76,-120,3.8,-180,3.85,-175,3.93,-100,4.0,-75,4.07,-60,4.2,-40,4.39,-20,4.6,-10,4.86,-5,5.2,0,6.0,-3,7.0,0,8.21,0];

// ---- A2 / B2 offset currents (window %, normalised current) ----
const a2ClGray = [0,14,2,22,4,12,6,24,8,15,10,22,12,13,14,25,16,14,18,20,20,10,22,8,24,16,26,12,28,20,29.5,25,30.5,45,31.5,40,32.9,51,34,52,36,48,38,46,40,40,42,36,44,33,46,28,48,22,50,18,53,12,56,7,59,4,62,3,66,2,68,8,69,2,72,4,76,2,80,4,84,1,88,3,90,1,91.5,15,93,5,95,10,97,5,99,9,100,8];
const a2ClBlack = [0,0,3,1,6,-1,10,1,13,0,16,3,18,0,22,1,26,-1,30,0,30.6,0,35.2,100,36.5,98,38,92,40.5,81,43,71,45.1,61,47,50,49.7,34,52.8,19,54.5,15,55.8,14,56.5,18,57.2,12,58.9,7,62,4,65,2,70,0,75,1,80,-1,85,1,90,-1,95,0,98,2,100,0];
const a2CGray = [-1,0,10,1,20,-1,31,0,31.8,-25,34,-18,38,-15,42,-13,46,-11,50,-9,55,-5,60,-3,65,-2,75,-1,85,0,99,0.5];
const a2CBlack = [-1,0,5,-1,15,0,25,-1,30.6,0,31.4,-43,37,-34,43,-25,49,-15,55.8,-5,60,-4,65,-2,72,-2,80,-1,90,-1,98.6,-1];
const b2ClGray = [0,34,1,26,2,48,3,30,4,22,5.5,44,7,28,8.5,55,10,25,11.5,40,13,30,14,60,15.5,26,17,45,18.5,30,20,22,21.5,50,23,28,24.5,38,26,20,27.5,55,29,30,30.5,35,32,24,33.5,40,35,26,36.4,18,37.5,30,38.5,60,40,95,41.7,98,43,90,45,72,47,65,48.5,58,50,48,52,38,54,30,56,25,58,18,60,15,62,12,64,9,66,10,68,5,70,8,72,3,74,6,76,2,78,4,80,1,82,5,84,0,86,3,88,1,90,4,92,0,94,3,96,1,98,4,100,2];
const b2ClBlack = [0,0,5,1,10,0,15,-1,20,1,25,0,30,1,34,0,36.4,0,37.5,3,39.4,55,41,80,43,95,44.7,99,46,97,48.5,95,51.5,80,54.5,64,57,55,59.1,45,61,40,63.6,30,66,25,69.7,19,72,17,74,14,77.3,12,80,9,82,11,84.8,6,87,7,90,4,92.4,5,95,3,97,6,100,4];
const b2CGray = [0,-8,1.5,-12,3,-6,4.5,-10,6,-7,7.5,-13,9,-8,10.5,-11,12,-6,13.5,-9,15,-12,16.5,-7,18,-10,19.5,-8,21,-12,22.5,-6,24,-9,25.5,-7,27,-11,28.5,-8,30,-10,31.5,-6,33,-9,34.5,-7,35.5,-12,37,-20,39,-35,41,-41,43,-38,45.5,-30,48.5,-20,52,-12,54.5,-9,60,-6,70,-4,85,-2.5,100,-2];
const b2CBlack = [0,0,8,1,16,0,24,1,32,0,36.4,0,37.9,-10,40,-33,41.5,-36,44,-30,48.5,-17,52,-12,54.5,-9,60,-6,69.7,-4,84.8,-2,100,-2.5];

// ================= DRAWING =================
const FONT = '"Liberation Sans", Arial, Helvetica, sans-serif';
const INK = "#231f20", GRAY = "#858b91", ARROWGRAY = "#a9aeb3";
const svg = d3.select("#fig");
svg.append("rect").attr("width",1641).attr("height",1444).attr("fill","#fff");

const pairs = f => { const o=[]; for(let i=0;i<f.length;i+=2) o.push([f[i],f[i+1]]); return o; };

function drawTrace(flat, x, base, k, color, w){
  const y = d3.scaleLinear().domain([0, scaleBarPA]).range([base, base - scaleBarPA*k]);
  const line = d3.line().x(d=>x(d[0])).y(d=>y(d[1]));
  svg.append("path").attr("d", line(pairs(flat))).attr("fill","none")
    .attr("stroke", color).attr("stroke-width", w).attr("stroke-linejoin","round").attr("stroke-linecap","round");
}
function txt(x,y,s,size,anchor,weight){
  return svg.append("text").attr("x",x).attr("y",y).text(s)
    .attr("font-family",FONT).attr("font-size",size).attr("fill",INK)
    .attr("text-anchor",anchor||"start").attr("font-weight",weight||"normal");
}
function vhColumn(mid, right, centers){
  txt(mid, centers[0]+11, "Vh", 31, "middle");
  txt(mid, centers[1]+11, "(mV)", 31, "middle");
  vhLevels.forEach((v,i)=>txt(right, centers[i+2]+11, v, 31, "end"));
}
function lightTrace(flat, x, base, h){
  const y = d3.scaleLinear().domain([0,1]).range([base, base-h]);
  svg.append("path").attr("d", d3.line().x(d=>x(d[0])).y(d=>y(d[1]))(pairs(flat)))
    .attr("fill","none").attr("stroke",INK).attr("stroke-width",1.6);
}
function timeAxis(x, y, tmin, tmax, pad){
  const xs = d3.scaleLinear().domain([tmin,tmax]).range([x(tmin), x(tmax)]);
  const ax = d3.axisBottom(xs).tickValues(timeTicks).tickSize(11).tickSizeOuter(0).tickPadding(pad)
    .tickFormat(d => tickLabelSet.includes(String(d)) ? String(d) : "");
  const g = svg.append("g").attr("transform",`translate(0,${y})`).call(ax);
  g.attr("font-size",null).attr("font-family",null);
  g.select(".domain").attr("stroke",INK).attr("stroke-width",2.2);
  g.selectAll(".tick line").attr("stroke",INK).attr("stroke-width",2.2);
  g.selectAll(".tick text").attr("font-family",FONT).attr("font-size",31).attr("font-weight","bold")
    .attr("fill",INK).attr("dx",5);
}
const blockShape = [[0,0],[-48,-27],[-41,-11],[-84,-11],[-84,11],[-41,11],[-48,27]];
function blockArrow(tx,ty,angle,sc,fill){
  svg.append("polygon").attr("points", blockShape.map(p=>p.join(",")).join(" "))
    .attr("transform",`translate(${tx},${ty}) rotate(${angle}) scale(${sc})`)
    .attr("fill",fill).attr("stroke",INK).attr("stroke-width",1.8/sc).attr("stroke-linejoin","miter");
}
function smallArrow(tx,ty,angle,len){
  const g = svg.append("g").attr("transform",`translate(${tx},${ty}) rotate(${angle})`);
  g.append("line").attr("x1",-12).attr("y1",0).attr("x2",-len).attr("y2",0).attr("stroke",INK).attr("stroke-width",3);
  g.append("polygon").attr("points","0,0 -19,-10 -15,0 -19,10").attr("fill",INK).attr("stroke",INK).attr("stroke-width",1);
}
function doubleArrow(x,y1,y2){
  svg.append("line").attr("x1",x).attr("x2",x).attr("y1",y1+18).attr("y2",y2-18).attr("stroke",INK).attr("stroke-width",3);
  svg.append("polygon").attr("points",`${x},${y1} ${x-13},${y1+22} ${x+13},${y1+22}`).attr("fill",INK);
  svg.append("polygon").attr("points",`${x},${y2} ${x-13},${y2-22} ${x+13},${y2-22}`).attr("fill",INK);
}
function deltaLabel(x,y,sub){
  const t = svg.append("text").attr("x",x).attr("y",y).attr("font-family",FONT).attr("fill",INK);
  t.append("tspan").attr("font-size",40).text("\u0394I");
  t.append("tspan").attr("font-size",27).attr("dy",6).text(sub);
}

// ---------- Panel A1 ----------
const xA1 = d3.scaleLinear().domain([0,8]).range([15,493]);
const kA1 = 0.22;
const a1Ctrl = [a1Ctrl40,a1Ctrl0,a1CtrlM20,a1CtrlM40,a1CtrlM60,a1CtrlM100];
const a1Lap = [a1Lap40,a1Lap0,a1LapM20,a1LapM40,a1LapM60,a1LapM100];
const a1Wash = [a1Wash40,a1Wash0,a1WashM20,a1WashM40,a1WashM60,a1WashM100];
const a1CtrlBase = [217,248,283,319,354,385];
const a1LapBase = [707,739,771,804,836,867];
const a1WashBase = [1085,1117,1151,1184,1216,1247];
a1Ctrl.forEach((d,i)=>drawTrace(d, xA1, a1CtrlBase[i], kA1, GRAY, 3));
a1Lap.forEach((d,i)=>drawTrace(d, xA1, a1LapBase[i], kA1, INK, 3));
a1Wash.forEach((d,i)=>drawTrace(d, xA1, a1WashBase[i], kA1, INK, 3));
txt(15,31,panelLabels[0],31,"start","bold");
txt(4,72,conditionsA1[0],40);
txt(9,572,conditionsA1[1],40);
txt(10,987,conditionsA1[2],40);
const sbA1 = d3.scaleLinear().domain([0,scaleBarPA]).range([185,185-scaleBarPA*kA1]);
svg.append("line").attr("x1",404).attr("x2",404).attr("y1",sbA1(0)).attr("y2",sbA1(scaleBarPA)).attr("stroke",INK).attr("stroke-width",2.2);
txt(417,128,String(scaleBarPA),35);
txt(427,164,"pA",35);
vhColumn(544,579,[133,173,212,252,292,332,372,410]);
vhColumn(544,579,[624,664,702,742,781,821,860,900]);
vhColumn(544,579,[1006,1046,1085,1124,1164,1204,1243,1283]);
lightTrace(lightA1, xA1, 1347, 19);
txt(127,1322,"Light",36);
timeAxis(xA1, 1357, -0.18, 8.22, 18);
blockArrow(249,208,129,1.0,"#fff");
blockArrow(271,371,-118,1.1,ARROWGRAY);
smallArrow(478,368,-132,40);
smallArrow(392,1229,-132,40);

// ---------- Panel B1 ----------
const xB1 = d3.scaleLinear().domain([0,8]).range([734,1215]);
const kB1 = 0.168;
const b1Ctrl = [b1Ctrl40,b1Ctrl0,b1CtrlM20,b1CtrlM40,b1CtrlM60,b1CtrlM100];
const b1Lap = [b1Lap40,b1Lap0,b1LapM20,b1LapM40,b1LapM60,b1LapM100];
const b1Dnqx = [b1Dnqx40,b1Dnqx0,b1DnqxM20,b1DnqxM40,b1DnqxM60,b1DnqxM100];
const b1Wash = [b1Wash40,b1Wash0,b1WashM20,b1WashM40,b1WashM60,b1WashM100];
const b1CtrlBase = [247,272,294,314,336,359];
const b1LapBase = [614,639,661,685,709,732];
const b1DnqxBase = [865,888,911,934,957,980];
const b1WashBase = [1170,1193,1217,1241,1267,1292];
b1Ctrl.forEach((d,i)=>drawTrace(d, xB1, b1CtrlBase[i], kB1, GRAY, 3));
b1Lap.forEach((d,i)=>drawTrace(d, xB1, b1LapBase[i], kB1, INK, 3));
b1Dnqx.forEach((d,i)=>drawTrace(d, xB1, b1DnqxBase[i], kB1, INK, 3));
b1Wash.forEach((d,i)=>drawTrace(d, xB1, b1WashBase[i], kB1, INK, 3));
txt(637,31,panelLabels[1],31,"start","bold");
txt(1016,50,conditionsB1[0],41);
txt(1099,508,conditionsB1[1],41);
txt(940,856,conditionsB1[2],41);
txt(1105,1091,conditionsB1[3],41);
const sbB1 = d3.scaleLinear().domain([0,scaleBarPA]).range([162,162-scaleBarPA*kB1]);
svg.append("line").attr("x1",1152).attr("x2",1152).attr("y1",sbB1(0)).attr("y2",sbB1(scaleBarPA)).attr("stroke",INK).attr("stroke-width",2.2);
txt(1163,124,String(scaleBarPA),37);
txt(1174,168,"pA",37);
vhColumn(676,712,[113,153,193,233,272,312,352,391]);
vhColumn(677,715,[448,488,526,566,606,646,686,724]);
vhColumn(681,720,[771,811,851,890,929,969,1009,1048]);
vhColumn(674,712,[1085,1125,1165,1205,1244,1284,1324,1364]);
lightTrace(lightB1, xB1, 1365, 18);
txt(836,1340,"Light",36);
timeAxis(xB1, 1373, -0.2, 8.1, 24);
blockArrow(987,207,145,1.0,"#fff");
blockArrow(991,362,-115,1.1,ARROWGRAY);
smallArrow(1026,355,-114,32);
smallArrow(1082,355,-114,32);
smallArrow(1062,724,-126,34);
smallArrow(1142,722,-117,34);
smallArrow(1036,1274,-128,40);

// ---------- Panel A2 ----------
const xA2 = d3.scaleLinear().domain([0,100]).range([1395,1613]);
const kA2 = 2.73;
const drawNorm = (flat,x,base,k,color,w)=>{
  const y = d3.scaleLinear().domain([0,100]).range([base, base-100*k]);
  svg.append("path").attr("d", d3.line().x(d=>x(d[0])).y(d=>y(d[1]))(pairs(flat)))
    .attr("fill","none").attr("stroke",color).attr("stroke-width",w).attr("stroke-linejoin","round");
};
txt(1280,31,panelLabels[2],31,"start","bold");
deltaLabel(1358,50,"Cl-offset");
drawNorm(a2ClGray, xA2, 356, kA2, GRAY, 3.2);
drawNorm(a2ClBlack, xA2, 356, kA2, INK, 3.2);
doubleArrow(1374,296,361);
blockArrow(1498,135,133,0.95,"#fff");
deltaLabel(1371,441,"C-offset");
drawNorm(a2CGray, xA2, 475, kA2, GRAY, 3.2);
drawNorm(a2CBlack, xA2, 475, kA2, INK, 3.2);
blockArrow(1455,617,-59,0.95,ARROWGRAY);

// ---------- Panel B2 ----------
const xB2 = d3.scaleLinear().domain([0,100]).range([1417,1637]);
const kB2 = 2.37;
txt(1280,804,panelLabels[3],31,"start","bold");
deltaLabel(1360,852,"Cl-offset");
drawNorm(b2ClGray, xB2, 1109, kB2, GRAY, 3.2);
drawNorm(b2ClBlack, xB2, 1109, kB2, INK, 3.2);
doubleArrow(1395,1001,1111);
blockArrow(1535,890,132,0.95,"#fff");
deltaLabel(1371,1191,"C-offset");
drawNorm(b2CGray, xB2, 1208, kB2, GRAY, 3.2);
drawNorm(b2CBlack, xB2, 1208, kB2, INK, 3.2);
blockArrow(1492,1324,-65,0.95,ARROWGRAY);
</script>
</body></html>
